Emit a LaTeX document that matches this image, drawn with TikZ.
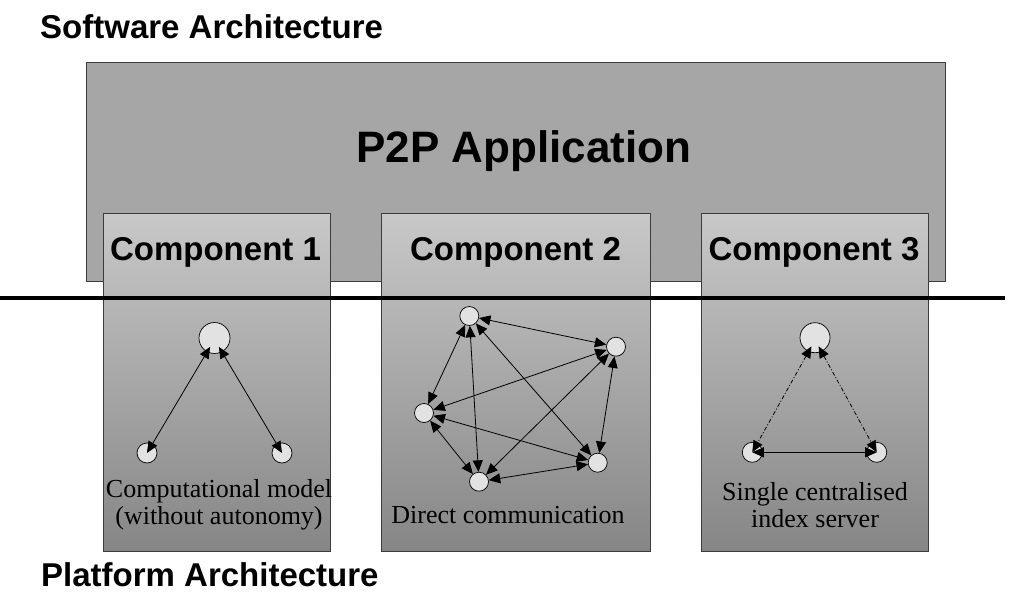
\documentclass[tikz,border=0pt]{standalone}
\usepackage{fontspec}
\setmainfont{Liberation Serif}
\newfontfamily\headfont{Liberation Sans}
\usetikzlibrary{arrows.meta}

\definecolor{appgray}{RGB}{166,166,166}
\definecolor{boxtop}{RGB}{200,200,200}
\definecolor{boxbot}{RGB}{134,134,134}
\definecolor{edgegray}{RGB}{60,60,60}
\definecolor{peerfill}{RGB}{226,226,226}

\tikzset{
  appbox/.style={draw=edgegray, line width=0.9pt, fill=appgray, inner sep=0pt,
    minimum width=859pt, minimum height=219pt},
  compbox/.style={draw=edgegray, line width=0.9pt, top color=boxtop, bottom color=boxbot,
    inner sep=0pt, minimum width=227pt, minimum height=338pt},
  heading/.style={font=\headfont\bfseries\fontsize{33}{36}\selectfont, inner sep=0pt},
  bigheading/.style={font=\headfont\bfseries\fontsize{44}{46}\selectfont, inner sep=0pt},
  caption/.style={font=\fontsize{26}{27}\selectfont, align=center, inner sep=0pt},
  peer/.style={circle, draw=black, line width=0.7pt, fill=peerfill, inner sep=0pt, minimum size=19pt},
  hub/.style={peer, minimum size=31pt},
  link/.style={{Triangle[length=11.5pt,width=10pt]}-{Triangle[length=11.5pt,width=10pt]}, line width=0.8pt},
  dashlink/.style={link, dash pattern=on 4pt off 2pt on 1pt off 2pt},
}

\begin{document}
\begin{tikzpicture}[x=1pt, y=-1pt]
\useasboundingbox (0,0) rectangle (1009,594);

% layer titles
\node[heading, anchor=base west] (swtitle) at (40,39) {Software Architecture};
\node[heading, anchor=base west] (pftitle) at (41,586) {Platform Architecture};

% application block
\node[appbox] (app) at (515.5,171.5) {};
\node[bigheading, anchor=base] (apptitle) at (524,162) {P2P Application};

% component blocks
\node[compbox] (comp1) at (216.5,382) {};
\node[compbox, minimum width=269pt] (comp2) at (515.5,382) {};
\node[compbox] (comp3) at (814.5,382) {};

\node[heading, anchor=base] (c1title) at (215.5,260) {Component 1};
\node[heading, anchor=base] (c2title) at (515.5,260) {Component 2};
\node[heading, anchor=base] (c3title) at (814,260) {Component 3};

% boundary between software and platform
\coordinate (sepL) at (0,298);
\coordinate (sepR) at (1005,298);
\draw[line width=4.5pt] (sepL) -- (sepR);

% component 1: computational model
\node[hub] (m1) at (214.5,338) {};
\node[peer, minimum size=20pt] (m2) at (147,453) {};
\node[peer, minimum size=20pt] (m3) at (282,453) {};
\draw[link, shorten <=-6pt] (m1.-118) -- (m2.center);
\draw[link, shorten <=-6pt] (m1.-62) -- (m3.center);
\node[caption] (cap1) at (219,505) {Computational model\\(without autonomy)};

% component 2: direct communication
\node[peer] (p1) at (469.3,316) {};
\node[peer] (p2) at (616,346.7) {};
\node[peer] (p3) at (424,413) {};
\node[peer] (p4) at (597.7,462.7) {};
\node[peer] (p5) at (479,481.7) {};
\foreach \a/\b in {p1/p2, p1/p3, p1/p4, p1/p5, p2/p3, p2/p4, p2/p5, p3/p4, p3/p5, p4/p5}
  \draw[link] (\a) -- (\b);
\node[caption, anchor=base] (cap2) at (508,523) {Direct communication};

% component 3: single centralised index server
\node[hub, minimum size=30pt] (s1) at (815,337.7) {};
\node[peer, minimum size=20pt] (s2) at (752.3,452.3) {};
\node[peer, minimum size=20pt] (s3) at (876.7,452.3) {};
\draw[dashlink, shorten <=-6pt] (s1.-115) -- (s2.center);
\draw[dashlink, shorten <=-6pt] (s1.-65) -- (s3.center);
\draw[link] (s2.center) -- (s3.center);
\node[caption] (cap3) at (815,505) {Single centralised\\index server};
\end{tikzpicture}
\end{document}
